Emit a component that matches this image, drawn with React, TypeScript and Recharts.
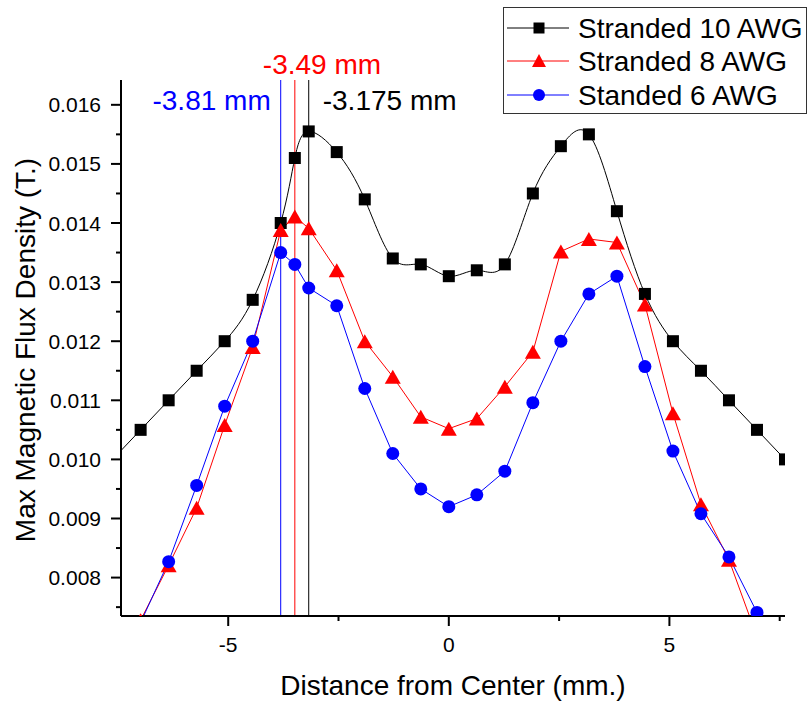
import { LineChart, Line, XAxis, YAxis, ReferenceLine } from 'recharts';

// distance from center (mm)
const positions = [
  -7.62, -6.985, -6.35, -5.715, -5.08, -4.445, -3.81, -3.49, -3.175, -2.54, -1.905, -1.27, -0.635,
  0, 0.635, 1.27, 1.905, 2.54, 3.175, 3.81, 4.445, 5.08, 5.715, 6.35, 6.985, 7.62,
];

// max magnetic flux density (T.)
const stranded10 = [
  0.01, 0.0105, 0.011, 0.0115, 0.012, 0.0127, 0.014, 0.0151, 0.01555, 0.0152, 0.0144, 0.0134, 0.0133,
  0.0131, 0.0132, 0.0133, 0.0145, 0.0153, 0.0155, 0.0142, 0.0128, 0.012, 0.0115, 0.011, 0.0105, 0.01,
];
const stranded8 = [
  null, 0.00728, 0.00821, 0.00918, 0.01058, 0.0119, 0.01388, 0.01411, 0.01391, 0.0132, 0.012, 0.0114, 0.01072,
  0.01052, 0.01069, 0.01123, 0.01182, 0.01352, 0.01373, 0.01367, 0.01262, 0.01078, 0.00924, 0.0083, 0.007, null,
];
const standed6 = [
  null, 0.00724, 0.00827, 0.00956, 0.0109, 0.012, 0.0135, 0.0133, 0.0129, 0.0126, 0.0112, 0.0101, 0.0095,
  0.0092, 0.0094, 0.0098, 0.01096, 0.012, 0.0128, 0.0131, 0.01157, 0.01014, 0.00908, 0.00835, 0.00741, null,
];

const seriesNames = ['Stranded 10 AWG', 'Stranded 8 AWG', 'Standed 6 AWG'];

const peakPositions = [-3.81, -3.49, -3.175];
const peakLabels = ['-3.81 mm', '-3.49 mm', '-3.175 mm'];

const xTickValues = [-5, -2.5, 0, 2.5, 5, 7.5];
const yTickValues = [
  0.0075, 0.008, 0.0085, 0.009, 0.0095, 0.01, 0.0105, 0.011, 0.0115, 0.012, 0.0125, 0.013, 0.0135,
  0.014, 0.0145, 0.015, 0.0155, 0.016,
];

const data = positions.map((x, i) => ({
  x,
  s10: stranded10[i],
  s8: stranded8[i],
  s6: standed6[i],
}));

const FONT = '"Liberation Sans", Arial, Helvetica, sans-serif';

function SquareDot(p: any) {
  if (p.cx == null || p.cy == null) return <g key={`sq-${p.index}`} />;
  return <rect key={`sq-${p.index}`} x={p.cx - 6} y={p.cy - 6} width={12} height={12} fill="#000" />;
}

function TriangleDot(p: any) {
  if (p.cx == null || p.cy == null) return <g key={`tr-${p.index}`} />;
  const { cx, cy } = p;
  return (
    <polygon
      key={`tr-${p.index}`}
      points={`${cx},${cy - 7} ${cx - 8},${cy + 7} ${cx + 8},${cy + 7}`}
      fill="#ff0000"
    />
  );
}

function CircleDot(p: any) {
  if (p.cx == null || p.cy == null) return <g key={`ci-${p.index}`} />;
  return <circle key={`ci-${p.index}`} cx={p.cx} cy={p.cy} r={6.5} fill="#0000ff" />;
}

function XTick({ x, y, payload }: any) {
  const v = payload.value;
  const major = v % 5 === 0;
  return (
    <g>
      <line x1={x} x2={x} y1={y} y2={y + (major ? 10 : 5)} stroke="#000" strokeWidth={2} />
      {major && (
        <text x={x} y={y + 36} textAnchor="middle" fontSize={21} fontFamily={FONT} fill="#000">
          {v}
        </text>
      )}
    </g>
  );
}

function YTick({ x, y, payload }: any) {
  const v = payload.value;
  const major = Math.abs(v * 1000 - Math.round(v * 1000)) < 1e-6;
  return (
    <g>
      <line x1={x} x2={x - (major ? 10 : 5)} y1={y} y2={y} stroke="#000" strokeWidth={2} />
      {major && (
        <text x={x - 20} y={y} dy="0.36em" textAnchor="end" fontSize={21} fontFamily={FONT} fill="#000">
          {v.toFixed(3)}
        </text>
      )}
    </g>
  );
}

function PeakLabel({ viewBox, text, color, dx, dy, anchor }: any) {
  if (!viewBox) return null;
  return (
    <text x={viewBox.x + dx} y={viewBox.y + dy} textAnchor={anchor} fontSize={28} fontFamily={FONT} fill={color}>
      {text}
    </text>
  );
}

function XTitle({ viewBox }: any) {
  if (!viewBox) return null;
  return (
    <text x={viewBox.x + viewBox.width / 2} y={viewBox.y + 79} textAnchor="middle" fontSize={28} fontFamily={FONT} fill="#000">
      Distance from Center (mm.)
    </text>
  );
}

function YTitle({ viewBox }: any) {
  if (!viewBox) return null;
  const cx = viewBox.x + 35;
  const cy = viewBox.y + viewBox.height / 2 + 2;
  return (
    <text x={cx} y={cy} transform={`rotate(-90, ${cx}, ${cy})`} textAnchor="middle" fontSize={28} fontFamily={FONT} fill="#000">
      Max Magnetic Flux Density (T.)
    </text>
  );
}

function LegendBox() {
  const colors = ['#000000', '#ff0000', '#0000ff'];
  const rows = [21, 54, 88];
  return (
    <svg width={305} height={108} style={{ position: 'absolute', left: 503, top: 7 }}>
      <rect x={0.5} y={0.5} width={303} height={106} fill="#fff" stroke="#333" strokeWidth={1} />
      {seriesNames.map((name, i) => {
        const cy = rows[i];
        return (
          <g key={name}>
            <line x1={4} x2={66} y1={cy} y2={cy} stroke={colors[i]} strokeWidth={1} />
            {i === 0 && <rect x={30.5} y={cy - 5.5} width={11} height={11} fill="#000" />}
            {i === 1 && <polygon points={`36,${cy - 7} 29,${cy + 6} 43,${cy + 6}`} fill="#ff0000" />}
            {i === 2 && <circle cx={36} cy={cy} r={6} fill="#0000ff" />}
            <text x={75} y={cy + 10} fontSize={28} fontFamily={FONT} fill="#000">
              {name}
            </text>
          </g>
        );
      })}
    </svg>
  );
}

export default function App() {
  const peakColors = ['#0000ff', '#ff0000', '#000000'];
  const peakOffsets = [
    { dx: -10, dy: 30, anchor: 'end' },
    { dx: -32, dy: -6, anchor: 'start' },
    { dx: 14, dy: 30, anchor: 'start' },
  ];
  return (
    <div style={{ position: 'absolute', left: 0, top: 0, width: 809, height: 702, background: '#fff' }}>
      <LineChart width={809} height={702} data={data} margin={{ top: 80, right: 24, bottom: 0, left: 0 }}>
        <XAxis
          type="number"
          dataKey="x"
          domain={[-7.43, 7.62]}
          allowDataOverflow
          ticks={xTickValues}
          interval={0}
          tickSize={0}
          tickMargin={0}
          tickLine={false}
          tick={<XTick />}
          axisLine={{ stroke: '#000', strokeWidth: 2 }}
          height={86}
          label={<XTitle />}
        />
        <YAxis
          type="number"
          domain={[0.00735, 0.01642]}
          allowDataOverflow
          ticks={yTickValues}
          interval={0}
          tickSize={0}
          tickMargin={0}
          tickLine={false}
          tick={<YTick />}
          axisLine={{ stroke: '#000', strokeWidth: 2 }}
          width={121}
          label={<YTitle />}
        />
        {peakPositions.map((px, i) => (
          <ReferenceLine
            key={peakLabels[i]}
            x={px}
            stroke={peakColors[i]}
            strokeWidth={1}
            label={<PeakLabel text={peakLabels[i]} color={peakColors[i]} {...peakOffsets[i]} />}
          />
        ))}
        <Line
          type="natural"
          dataKey="s10"
          name={seriesNames[0]}
          stroke="#000"
          strokeWidth={1}
          dot={SquareDot}
          activeDot={false}
          isAnimationActive={false}
        />
        <Line
          type="linear"
          dataKey="s8"
          name={seriesNames[1]}
          stroke="#ff0000"
          strokeWidth={1}
          dot={TriangleDot}
          activeDot={false}
          isAnimationActive={false}
        />
        <Line
          type="linear"
          dataKey="s6"
          name={seriesNames[2]}
          stroke="#0000ff"
          strokeWidth={1}
          dot={CircleDot}
          activeDot={false}
          isAnimationActive={false}
        />
      </LineChart>
      <LegendBox />
    </div>
  );
}
